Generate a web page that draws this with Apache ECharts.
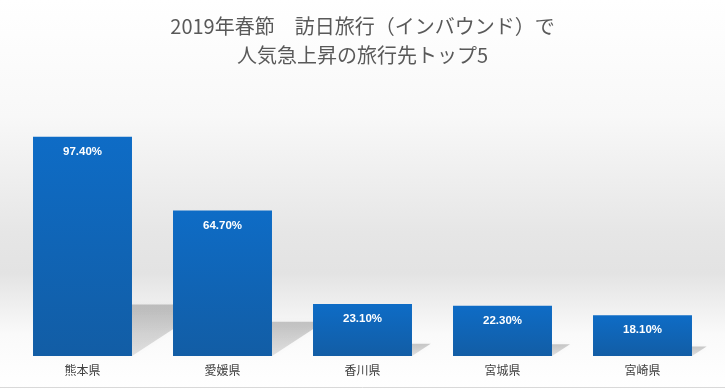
<!DOCTYPE html>
<html><head><meta charset="utf-8">
<script src="https://cdn.jsdelivr.net/npm/echarts@6/dist/echarts.min.js"></script>
<style>html,body{margin:0;padding:0;background:#fff}#c{width:725px;height:389px}</style>
</head><body><div id="c"></div>
<script>
const titleLines = ['2019年春節　訪日旅行（インバウンド）で', '人気急上昇の旅行先トップ5'];
const categories = ['熊本県', '愛媛県', '香川県', '宮城県', '宮崎県'];
const values = [97.4, 64.7, 23.1, 22.3, 18.1];

const chart = echarts.init(document.getElementById('c'));
const BAR_FRAC = 0.707;
chart.setOption({
  backgroundColor: {type:'linear', x:0, y:0, x2:0, y2:1, colorStops:[
    {offset:0, color:'#ffffff'},
    {offset:0.3, color:'#f8f8f8'},
    {offset:0.6, color:'#e6e6e6'},
    {offset:0.7, color:'#e3e3e3'},
    {offset:0.86, color:'#fafafa'},
    {offset:1, color:'#ffffff'}
  ]},
  animation:false,
  title:{
    text: titleLines.join('\n'), left:'center', top:7,
    textStyle:{fontFamily:'Noto Sans CJK JP', fontSize:20, fontWeight:'normal', color:'#595959', lineHeight:29}
  },
  grid:{left:12.5, right:12.5, top:131, bottom:33},
  xAxis:{type:'category', data:categories,
    axisLine:{show:false}, axisTick:{show:false},
    axisLabel:{margin:8, fontSize:12, color:'#404040', fontFamily:'Noto Sans CJK JP'}},
  yAxis:{type:'value', min:0, max:100, show:false, splitLine:{show:false}},
  graphic:[{type:'line', shape:{x1:0, y1:387.5, x2:725, y2:387.5}, style:{stroke:'#d9d9d9', lineWidth:1}, z:100}],
  series:[
    {type:'custom', z:1, silent:true,
      data: values.map((v,i)=>[i,v]), encode:{x:0,y:1},
      renderItem:function(params, api){
        const idx = api.value(0), v = api.value(1);
        const top = api.coord([idx, v]); const base = api.coord([idx, 0]);
        const bw = api.size([1,0])[0]*BAR_FRAC;
        const h = base[1]-top[1];
        const xl = base[0]-bw/2, xr = base[0]+bw/2, y0 = base[1];
        const dx = h*0.36, dy = h*0.235;
        return {type:'polygon', shape:{points:[[xl,y0],[xr,y0],[xr+dx,y0-dy],[xl+dx,y0-dy]]},
          style:{fill:{type:'linear', x:0, y:0, x2:0, y2:1, colorStops:[
            {offset:0, color:'rgba(0,0,0,0.2)'},{offset:1, color:'rgba(0,0,0,0.1)'}]},
            shadowBlur:5, shadowColor:'rgba(0,0,0,0.15)'}};
      }},
    {type:'bar', z:5, data:values, barWidth:(BAR_FRAC*100)+'%',
      itemStyle:{color:{type:'linear', x:0,y:0,x2:0,y2:1, colorStops:[{offset:0,color:'#0e6cc6'},{offset:1,color:'#125da5'}]}},
      label:{show:true, position:'insideTop', distance:9, color:'#ffffff', fontWeight:'bold', fontSize:11.5,
        fontFamily:'Liberation Sans', formatter:p=>p.value.toFixed(2)+'%'}}
  ]
});
</script></body></html>
